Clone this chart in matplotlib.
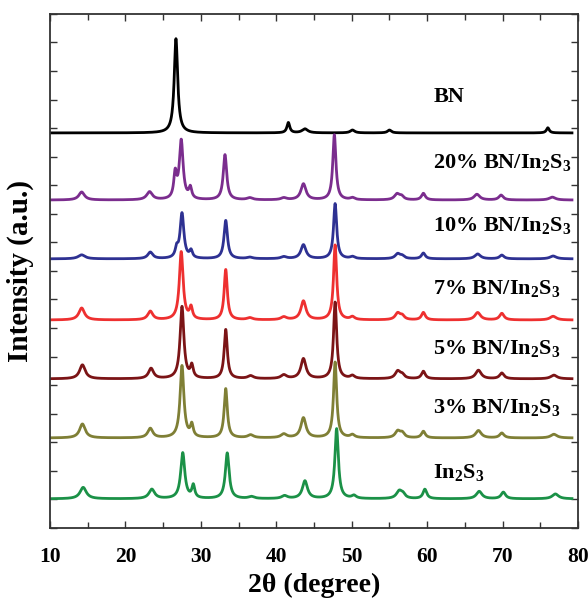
import numpy as np
import matplotlib
matplotlib.use("Agg")
import matplotlib.pyplot as plt
from matplotlib.ticker import MultipleLocator, NullFormatter

plt.rcParams["font.family"] = ["Liberation Serif", "DejaVu Serif"]
plt.rcParams["font.weight"] = "bold"
plt.rcParams["mathtext.fontset"] = "custom"
plt.rcParams["mathtext.rm"] = "Liberation Serif:bold"
plt.rcParams["mathtext.it"] = "Liberation Serif:bold"
plt.rcParams["mathtext.bf"] = "Liberation Serif:bold"

# sample names (top to bottom) and vertical offsets of each pattern
labels = ["BN", "20% BN/In$_2$S$_3$", "10% BN/In$_2$S$_3$", "7% BN/In$_2$S$_3$",
          "5% BN/In$_2$S$_3$", "3% BN/In$_2$S$_3$", "In$_2$S$_3$"]
offsets = [1383, 1148, 942, 728, 522, 315, 102]
colors = ["#000000", "#7b2d8e", "#2e3192", "#ee3030", "#7b1416", "#7f7f35", "#1b9147"]

# peak tables: 2theta (deg), height (a.u.), FWHM (deg)
bn_pos = [26.7, 41.6, 43.8, 50.1, 55.0, 76.0]
bn_h = [330, 36, 14, 10, 10, 18]
bn_w = [0.55, 0.45, 0.9, 0.7, 0.6, 0.45]

p20_pos = [14.2, 23.2, 26.6, 27.4, 28.6, 33.2, 36.5, 41.0, 43.6, 47.7, 50.1, 56.0, 56.6, 59.5, 66.6, 69.8, 76.6]
p20_h = [28, 28, 85, 205, 38, 158, 7, 7, 56, 228, 7, 20, 12, 23, 20, 17, 10]
p20_w = [0.9, 0.9, 0.45, 0.6, 0.45, 0.55, 0.9, 0.9, 0.8, 0.5, 0.7, 0.8, 0.7, 0.6, 0.9, 0.7, 1.0]

p10_pos = [14.2, 23.3, 26.8, 27.5, 28.7, 33.3, 36.5, 41.0, 43.6, 47.8, 50.1, 56.1, 56.7, 59.5, 66.7, 69.9, 76.7]
p10_h = [14, 23, 30, 158, 25, 134, 5, 7, 49, 193, 7, 17, 9, 20, 17, 13, 10]
p10_w = [1.1, 0.8, 0.45, 0.6, 0.45, 0.55, 0.9, 0.9, 0.8, 0.5, 0.7, 0.8, 0.7, 0.6, 0.9, 0.7, 1.0]

p7_pos = [14.2, 23.3, 27.4, 28.7, 33.3, 36.5, 41.0, 43.6, 47.8, 50.1, 56.1, 56.7, 59.5, 66.7, 69.9, 76.7]
p7_h = [42, 30, 238, 40, 176, 7, 10, 66, 262, 10, 23, 13, 26, 26, 23, 13]
p7_w = [0.9, 0.8, 0.6, 0.45, 0.5, 0.9, 0.9, 0.8, 0.5, 0.7, 0.8, 0.7, 0.6, 0.9, 0.7, 1.0]

p5_pos = [14.3, 23.4, 27.5, 28.8, 33.3, 36.6, 41.0, 43.6, 47.8, 50.1, 56.1, 56.7, 59.5, 66.8, 69.9, 76.8]
p5_h = [49, 36, 252, 42, 172, 10, 13, 70, 268, 10, 26, 13, 26, 30, 20, 13]
p5_w = [0.9, 0.8, 0.6, 0.45, 0.5, 0.9, 0.9, 0.8, 0.5, 0.7, 0.8, 0.7, 0.6, 0.9, 0.7, 1.0]

p3_pos = [14.3, 23.3, 27.5, 28.8, 33.3, 36.6, 41.0, 43.6, 47.8, 50.1, 56.1, 56.7, 59.5, 66.8, 69.9, 76.8]
p3_h = [49, 33, 252, 42, 172, 10, 13, 70, 265, 10, 23, 16, 23, 26, 17, 13]
p3_w = [0.9, 0.8, 0.6, 0.45, 0.5, 0.9, 0.9, 0.8, 0.5, 0.7, 0.8, 0.7, 0.6, 0.9, 0.7, 1.0]

p0_pos = [14.4, 23.5, 27.6, 29.0, 33.5, 36.7, 41.1, 43.8, 48.0, 50.3, 56.3, 56.8, 59.7, 66.9, 70.1, 77.0]
p0_h = [40, 33, 160, 44, 160, 7, 10, 62, 245, 10, 26, 13, 33, 26, 23, 17]
p0_w = [1.0, 0.9, 0.65, 0.45, 0.6, 0.9, 0.9, 0.8, 0.55, 0.7, 0.9, 0.7, 0.6, 0.9, 0.7, 1.0]

peak_tables = [(bn_pos, bn_h, bn_w), (p20_pos, p20_h, p20_w), (p10_pos, p10_h, p10_w),
               (p7_pos, p7_h, p7_w), (p5_pos, p5_h, p5_w), (p3_pos, p3_h, p3_w),
               (p0_pos, p0_h, p0_w)]

two_theta = np.linspace(10, 79.2, 4000)


def pattern(pos, h, w):
    # sum of Lorentzian profiles
    y = np.zeros_like(two_theta)
    for p, a, fw in zip(pos, h, w):
        g = fw / 2.0
        y += a * g**2 / ((two_theta - p) ** 2 + g**2)
    return y


fig = plt.figure(figsize=(5.88, 6.0), dpi=100)
ax = fig.add_axes([0.085, 0.12, 0.898, 0.857])

for (pos, h, w), off, c in zip(peak_tables, offsets, colors):
    ax.plot(two_theta, pattern(pos, h, w) + off, color=c, lw=2.0)

# sample labels on the right
label_y = [1508, 1280, 1060, 840, 630, 423, 195]
for lab, ly in zip(labels, label_y):
    ax.text(60.8, ly, lab, fontsize=16, fontweight="bold", va="center", ha="left")

ax.set_xlim(10, 80)
ax.set_ylim(0, 1800)
ax.xaxis.set_major_locator(MultipleLocator(10))
ax.xaxis.set_minor_locator(MultipleLocator(5))
ax.yaxis.set_major_locator(MultipleLocator(100))
ax.yaxis.set_major_formatter(NullFormatter())
ax.tick_params(which="both", direction="in", top=True, right=True, width=1.0, color="#333333")
ax.tick_params(which="major", length=5)
ax.tick_params(which="minor", length=4)
ax.tick_params(axis="x", labelsize=15.5, pad=14)
for s in ax.spines.values():
    s.set_linewidth(1.3)
    s.set_color("#333333")

ax.set_xlabel("2θ (degree)", fontsize=20, fontweight="bold", labelpad=4)
ax.set_ylabel("Intensity (a.u.)", fontsize=21, fontweight="bold", labelpad=8)

fig.savefig("out.png", dpi=100)
